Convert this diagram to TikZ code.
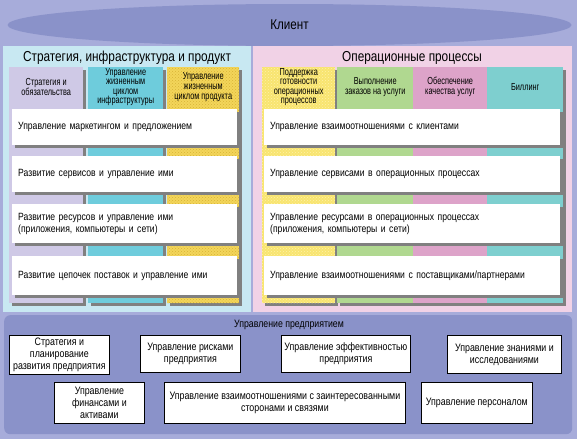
\documentclass[tikz,border=0pt]{standalone}
\usepackage{fontspec}
\setmainfont[FakeStretch=0.82]{Liberation Sans}
\newfontfamily\narrowfont[FakeStretch=0.72]{Liberation Sans}
\usetikzlibrary{shapes.geometric,patterns}
\definecolor{bgc}{HTML}{A7ACDA}
\definecolor{ellc}{HTML}{8A92C9}
\definecolor{lpan}{HTML}{C8E8F2}
\definecolor{rpan}{HTML}{F1D2E6}
\definecolor{cpur}{HTML}{CFC9E6}
\definecolor{ccya}{HTML}{6ECCDC}
\definecolor{cyel}{HTML}{F3D55A}
\definecolor{cyeldot}{HTML}{D8B436}
\definecolor{cyel2}{HTML}{F8E470}
\definecolor{cyel2dot}{HTML}{FFF2A8}
\definecolor{cgrn}{HTML}{B0D890}
\definecolor{cpnk}{HTML}{DDA3C9}
\definecolor{ctea}{HTML}{7ECFCF}
\definecolor{shd}{HTML}{808080}
\tikzset{
  colbox/.style={draw=none, anchor=north west, inner sep=0pt,
    preaction={fill=shd, transform canvas={shift={(3pt,-2.5pt)}}}},
  plain col/.style={draw=none, anchor=north west, inner sep=0pt},
  rowbox/.style={fill=white, anchor=north west, inner xsep=6pt, inner ysep=0pt,
    align=left, font=\fontsize{10.5}{12}\selectfont,
    preaction={fill=shd, transform canvas={shift={(2.5pt,-2.5pt)}}}},
  head/.style={align=center, font=\narrowfont\fontsize{10.2}{9.6}\selectfont, inner sep=0pt},
  ptitle/.style={font=\fontsize{14.4}{16}\selectfont, inner sep=0pt},
  entbox/.style={draw=black, line width=0.8pt, fill=white, anchor=north west,
    align=center, inner sep=1pt, font=\fontsize{10.8}{12}\selectfont},
}
\begin{document}
\begin{tikzpicture}[x=1pt,y=-1pt]
\useasboundingbox (0,0) rectangle (577,439);
\fill[bgc] (0,0) rectangle (577,439);
% client
\node[ellipse, fill=ellc, minimum width=564, minimum height=42, inner sep=0pt] (client) at (289.5,25) {};
\node[font=\fontsize{14.2}{16}\selectfont, inner sep=0pt] (clientt) at (client.center) {Клиент};
% panels
\node[plain col, fill=lpan, minimum width=248, minimum height=266] (lp) at (3,46) {};
\node[plain col, fill=rpan, minimum width=319, minimum height=266] (rp) at (253,46) {};
\node[ptitle] (lpt) at (127,58) {Стратегия, инфраструктура и продукт};
\node[ptitle] (rpt) at (412,58) {Операционные процессы};
% left columns
\node[colbox, fill=cpur, minimum width=74, minimum height=236] (c1) at (9,67) {};
\node[colbox, fill=ccya, minimum width=75, minimum height=236] (c2) at (88,67) {};
\node[colbox, fill=cyel, postaction={pattern=crosshatch dots, pattern color=cyeldot}, minimum width=72, minimum height=236] (c3) at (167,67) {};
% right columns
\node[colbox, fill=cyel2, postaction={pattern=crosshatch dots, pattern color=cyel2dot}, minimum width=73, minimum height=236] (c4) at (262,67) {};
\node[colbox, fill=cgrn, minimum width=226, minimum height=236] (c5sh) at (337,67) {};
\node[plain col, fill=cgrn, minimum width=76, minimum height=236] (c5) at (337,67) {};
\node[plain col, fill=cpnk, minimum width=74, minimum height=236] (c6) at (413,67) {};
\node[plain col, fill=ctea, minimum width=76, minimum height=236] (c7) at (487,67) {};
% column heads
\node[head] (h1) at (c1.north |- 0,87) {Стратегия и\\обязательства};
\node[head] (h2) at (c2.north |- 0,87) {Управление\\жизненным\\циклом\\инфраструктуры};
\node[head] (h3) at (c3.north |- 0,87) {Управление\\жизненным\\циклом продукта};
\node[head] (h4) at (c4.north |- 0,87) {Поддержка\\готовности\\операционных\\процессов};
\node[head] (h5) at (c5.north |- 0,87) {Выполнение\\заказов на услуги};
\node[head] (h6) at (c6.north |- 0,87) {Обеспечение\\качества услуг};
\node[head] (h7) at (c7.north |- 0,87) {Биллинг};
% left rows
\node[rowbox, text width=213, minimum height=36] (l1) at (12,109) {Управление маркетингом и предложением};
\node[rowbox, text width=213, minimum height=36] (l2) at (12,156) {Развитие сервисов и управление ими};
\node[rowbox, text width=213, minimum height=39] (l3) at (12,204) {Развитие ресурсов и управление ими\\(приложения, компьютеры и сети)};
\node[rowbox, text width=213, minimum height=39] (l4) at (12,256) {Развитие цепочек поставок и управление ими};
% right rows
\node[rowbox, text width=284, minimum height=36] (r1) at (264,109) {Управление взаимоотношениями с клиентами};
\node[rowbox, text width=284, minimum height=36] (r2) at (264,156) {Управление сервисами в операционных процессах};
\node[rowbox, text width=284, minimum height=39] (r3) at (264,204) {Управление ресурсами в операционных процессах\\(приложения, компьютеры и сети)};
\node[rowbox, text width=284, minimum height=39] (r4) at (264,256) {Управление взаимоотношениями с поставщиками/партнерами};
% enterprise panel
\node[plain col, fill=ellc, rounded corners=6pt, minimum width=568, minimum height=119] (ep) at (4,315) {};
\node[font=\fontsize{10.7}{12}\selectfont, inner sep=0pt] (ept) at (289,325) {Управление предприятием};
\node[entbox, minimum width=100, minimum height=39] (e1) at (9,335) {Стратегия и\\планирование\\развития предприятия};
\node[entbox, minimum width=100, minimum height=37] (e2) at (140,335) {Управление рисками\\предприятия};
\node[entbox, minimum width=129, minimum height=37] (e3) at (281,335) {Управление эффективностью\\предприятия};
\node[entbox, minimum width=114, minimum height=38] (e4) at (447,335) {Управление знаниями и\\исследованиями};
\node[entbox, minimum width=90, minimum height=41] (e5) at (54,382) {Управление\\финансами и\\активами};
\node[entbox, minimum width=241, minimum height=41] (e6) at (164,382) {Управление взаимоотношениями с заинтересованными\\сторонами и связями};
\node[entbox, minimum width=111, minimum height=41] (e7) at (421,382) {Управление персоналом};
\end{tikzpicture}
\end{document}
